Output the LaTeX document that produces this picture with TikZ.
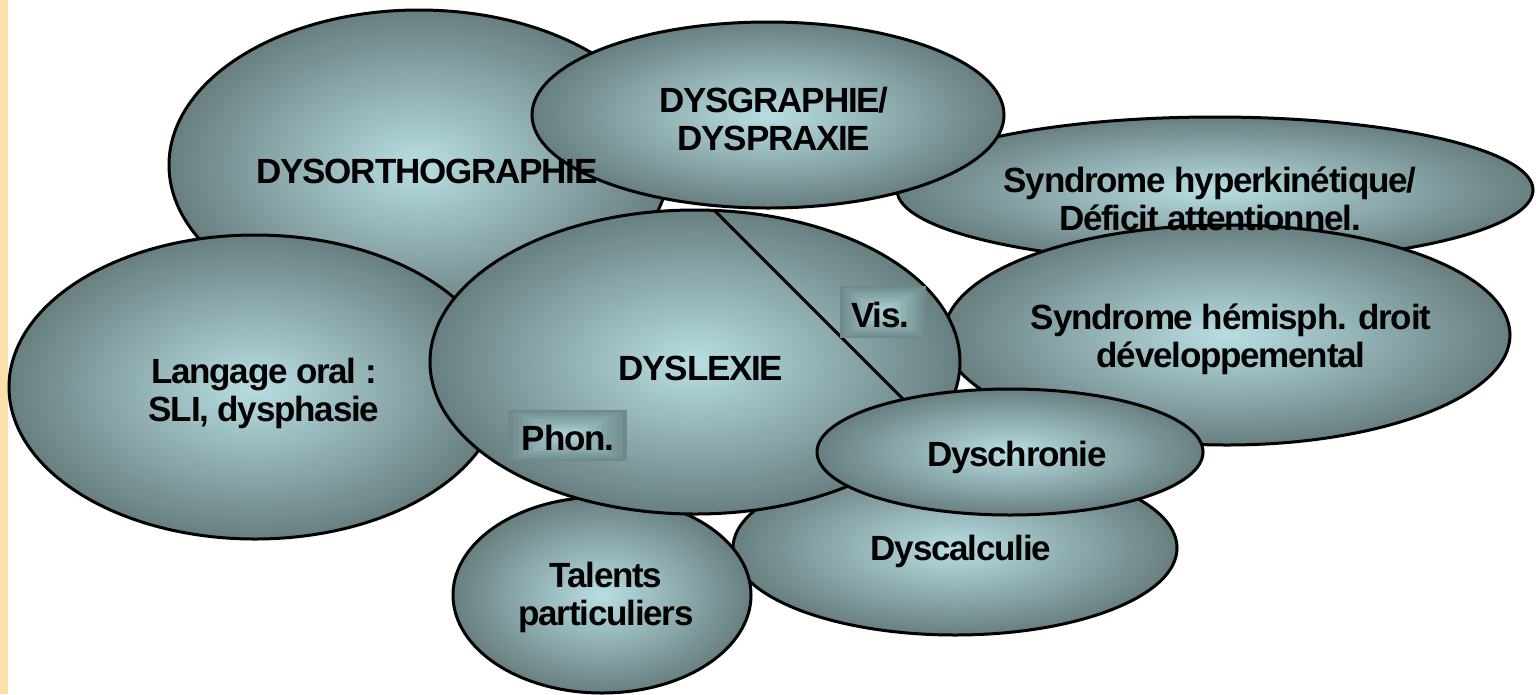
\documentclass[tikz,border=0pt]{standalone}
\usepackage{fontspec}
\newfontfamily\labfont[LetterSpace=-3.5]{Liberation Sans}
\usetikzlibrary{shapes.geometric,calc}
\definecolor{bubin}{HTML}{B8DEE2}
\definecolor{bubout}{HTML}{687F80}
\definecolor{stripcol}{HTML}{FBE0AB}
\definecolor{boxdark}{HTML}{6F8A8B}
\definecolor{boxlight}{HTML}{B2D9DD}
\begin{document}
\begin{tikzpicture}[x=1pt,y=-1pt,
  bubble/.style={ellipse, draw=black, line width=3pt, shading=radial,
    inner color=bubin, outer color=bubout, inner sep=0pt},
  lab/.style={font=\labfont\bfseries\fontsize{35}{38}\selectfont,
    align=center, text=black, inner sep=0pt},
  tagbox/.style={rectangle, inner sep=0pt}]
\useasboundingbox (0,0) rectangle (1536,694);
\fill[white] (0,0) rectangle (1536,694);
\fill[stripcol] (0,0) rectangle (8,694);
% bubbles, back to front
\node[bubble, minimum width=500, minimum height=310] (ortho) at (419,165) {};
\node[bubble, minimum width=636, minimum height=146] (hyper) at (1215,190) {};
\node[bubble, minimum width=472, minimum height=186] (graph) at (768,115) {};
\node[bubble, minimum width=566, minimum height=220] (hemi) at (1227,335) {};
\node[bubble, minimum width=492, minimum height=304] (lang) at (255,387) {};
\node[bubble, minimum width=444, minimum height=174] (calc) at (955,548) {};
\node[bubble, minimum width=298, minimum height=196] (tal) at (602,595) {};
\node[bubble, minimum width=530, minimum height=304] (lex) at (695,362) {};
\coordinate (ls) at (715,211);
\coordinate (le) at (916,412);
\draw[line width=3pt] (ls) -- (le);
\node[bubble, minimum width=386, minimum height=126] (chron) at (1010,452) {};
% shaded tag boxes
\node[tagbox, minimum width=119, minimum height=51] (phonbox) at (567.5,435.5) {};
\node[tagbox, minimum width=86, minimum height=52] (visbox) at (883,312) {};
\foreach \i in {0,...,11}{
  \pgfmathsetmacro\p{\i*100/12}
  \fill[boxlight!\p!boxdark] ($(phonbox.north west)+(\i*59.5/12,\i*25.5/12)$)
     rectangle ($(phonbox.south east)-(\i*59.5/12,\i*25.5/12)$);
  \fill[boxlight!\p!boxdark] ($(visbox.north west)+(\i*43/12,\i*26/12)$)
     rectangle ($(visbox.south east)-(\i*43/12,\i*26/12)$);
}
% labels
\node[lab] (orthoT) at (427,171) {DYSORTHOGRAPHIE};
\node[lab] (graphT) at (774,119) {DYSGRAPHIE/\\DYSPRAXIE};
\node[lab] (hyperT) at (1210,199) {Syndrome hyperkinétique/\\Déficit attentionnel.};
\node[lab] (hemiT) at (1231,339) {Syndrome hémisph. droit\\développemental};
\node[lab] (langT) at (264,393) {Langage oral :\\SLI, dysphasie};
\node[lab] (lexT) at (701,368) {DYSLEXIE};
\node[lab] (phonT) at (568,438) {Phon.};
\node[lab] (visT) at (880,315) {Vis.};
\node[lab] (chronT) at (1017,457) {Dyschronie};
\node[lab] (calcT) at (961,551) {Dyscalculie};
\node[lab] (talT) at (606,597) {Talents\\particuliers};
\end{tikzpicture}
\end{document}
